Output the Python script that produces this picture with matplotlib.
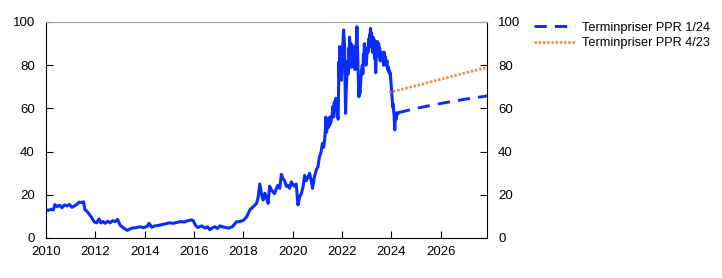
import matplotlib
matplotlib.use("Agg")
import matplotlib.pyplot as plt

plt.rcParams['font.family'] = ['Liberation Sans', 'DejaVu Sans']

# historisk pris (aar som desimaltall, verdi)
hist_x = [2010.00, 2010.10, 2010.20, 2010.30, 2010.36, 2010.45, 2010.55, 2010.65, 2010.75, 2010.85,
          2010.95, 2011.05, 2011.15, 2011.25, 2011.35, 2011.45, 2011.52, 2011.58, 2011.65, 2011.75,
          2011.85, 2011.95, 2012.05, 2012.15, 2012.22, 2012.30, 2012.40, 2012.50, 2012.60, 2012.70,
          2012.80, 2012.90, 2013.00, 2013.10, 2013.20, 2013.30, 2013.40, 2013.50, 2013.65, 2013.80,
          2013.95, 2014.10, 2014.18, 2014.28, 2014.40, 2014.55, 2014.70, 2014.85, 2015.00, 2015.15,
          2015.30, 2015.45, 2015.60, 2015.75, 2015.90, 2015.97, 2016.05, 2016.15, 2016.30, 2016.45,
          2016.55, 2016.64, 2016.75, 2016.85, 2016.95, 2017.05, 2017.20, 2017.40, 2017.55, 2017.72,
          2017.85, 2018.00, 2018.12, 2018.26, 2018.40, 2018.53, 2018.60, 2018.66, 2018.74, 2018.80,
          2018.87, 2018.94, 2019.00, 2019.06, 2019.15, 2019.26, 2019.33, 2019.40, 2019.47, 2019.54,
          2019.60, 2019.67, 2019.74, 2019.80, 2019.87, 2019.94, 2020.05, 2020.14, 2020.21, 2020.28,
          2020.35, 2020.42, 2020.48, 2020.55, 2020.61, 2020.68, 2020.74, 2020.80, 2020.88, 2020.95,
          2021.02, 2021.08, 2021.15, 2021.20, 2021.25, 2021.29, 2021.32, 2021.34, 2021.37, 2021.40,
          2021.43, 2021.45, 2021.48, 2021.50, 2021.53, 2021.56, 2021.60, 2021.63, 2021.66, 2021.68,
          2021.71, 2021.74, 2021.77, 2021.80, 2021.84, 2021.87, 2021.89, 2021.90, 2021.92, 2021.93,
          2021.95, 2021.97, 2021.99, 2022.01, 2022.03, 2022.06, 2022.08, 2022.10, 2022.12, 2022.14,
          2022.16, 2022.18, 2022.20, 2022.23, 2022.25, 2022.27, 2022.29, 2022.30, 2022.32, 2022.34,
          2022.36, 2022.37, 2022.39, 2022.41, 2022.43, 2022.44, 2022.46, 2022.48, 2022.50, 2022.52,
          2022.54, 2022.55, 2022.57, 2022.60, 2022.62, 2022.64, 2022.66, 2022.68, 2022.70, 2022.72,
          2022.75, 2022.77, 2022.79, 2022.82, 2022.84, 2022.86, 2022.88, 2022.90, 2022.92, 2022.95,
          2022.97, 2023.00, 2023.02, 2023.05, 2023.07, 2023.09, 2023.11, 2023.13, 2023.15, 2023.17,
          2023.19, 2023.21, 2023.23, 2023.25, 2023.27, 2023.29, 2023.31, 2023.32, 2023.34, 2023.36,
          2023.38, 2023.40, 2023.42, 2023.43, 2023.46, 2023.48, 2023.50, 2023.52, 2023.54, 2023.56,
          2023.58, 2023.59, 2023.62, 2023.64, 2023.66, 2023.68, 2023.70, 2023.72, 2023.75, 2023.77,
          2023.80, 2023.82, 2023.84, 2023.86, 2023.88, 2023.90, 2023.93, 2023.95, 2023.98, 2024.00,
          2024.03, 2024.05, 2024.07, 2024.09, 2024.11, 2024.13, 2024.15, 2024.17, 2024.19, 2024.21,
          2024.26]
hist_y = [13.0, 12.8, 13.3, 13.0, 15.5, 14.5, 15.2, 14.0, 15.3, 14.8,
          15.5, 14.2, 14.8, 15.6, 16.6, 16.4, 16.8, 13.0, 12.5, 11.0,
          9.5, 7.5, 7.0, 8.8, 7.0, 7.6, 6.8, 7.8, 7.0, 8.0,
          7.6, 8.6, 6.0, 5.0, 4.2, 3.5, 4.2, 4.6, 4.8, 5.2,
          4.8, 5.4, 6.8, 5.0, 5.6, 5.8, 6.2, 6.6, 7.0, 6.8,
          7.2, 7.6, 7.4, 8.0, 8.4, 8.0, 6.0, 4.8, 5.6, 4.6,
          5.2, 3.8, 4.8, 5.2, 4.4, 5.6, 5.0, 4.6, 5.2, 7.5,
          7.6, 8.2, 9.6, 13.0, 14.5, 16.0, 19.0, 25.0, 20.0, 17.6,
          20.7, 18.5, 16.0, 24.0, 22.0, 20.5, 22.8, 24.4, 23.0, 29.5,
          27.5, 26.5, 24.0, 24.4, 23.0, 26.0, 24.0, 25.0, 15.3, 19.0,
          20.7, 24.0, 29.0, 26.5, 28.0, 30.0, 27.0, 23.0, 28.5, 31.5,
          33.0, 37.5, 40.0, 43.8, 42.0, 45.4, 50.0, 56.0, 49.0, 53.0,
          51.0, 55.0, 52.0, 56.0, 53.0, 54.6, 58.0, 61.0, 56.0, 63.0,
          60.0, 64.7, 62.0, 57.6, 55.0, 81.6, 74.0, 88.6, 80.0, 84.0,
          76.0, 73.0, 80.0, 84.0, 90.0, 96.3, 92.0, 88.0, 70.0, 57.7,
          66.0, 72.0, 78.0, 82.0, 76.0, 88.0, 84.0, 93.0, 87.0, 85.0,
          90.0, 79.0, 84.0, 86.0, 80.0, 89.0, 85.0, 84.0, 88.0, 78.0,
          84.0, 81.0, 88.0, 97.8, 88.0, 80.0, 72.0, 65.4, 70.0, 67.0,
          72.0, 74.6, 78.0, 80.0, 76.0, 85.0, 82.0, 90.0, 84.0, 86.0,
          80.0, 84.0, 88.0, 86.0, 92.0, 88.0, 94.0, 92.0, 97.0, 91.0,
          95.0, 90.0, 86.0, 93.0, 88.0, 92.0, 84.0, 83.0, 86.0, 76.5,
          84.0, 88.0, 91.0, 87.0, 84.0, 90.0, 86.0, 88.0, 82.0, 86.0,
          84.0, 85.0, 82.0, 86.0, 83.0, 80.0, 86.0, 82.0, 84.0, 80.0,
          81.0, 82.0, 78.0, 79.4, 77.0, 78.0, 76.0, 76.5, 72.0, 68.5,
          64.0, 60.5, 62.0, 58.5, 56.0, 50.0, 54.0, 57.0, 55.0, 58.0,
          57.5]

# terminpriser
ppr124_x = [2024.26, 2025.0, 2026.0, 2027.0, 2027.9]
ppr124_y = [58.0, 60.0, 62.3, 64.3, 65.8]
ppr423_x = [2023.90, 2025.0, 2026.0, 2027.0, 2027.9]
ppr423_y = [67.4, 70.5, 73.5, 76.5, 79.0]

xticks = [2010, 2012, 2014, 2016, 2018, 2020, 2022, 2024, 2026]
yticks = [0, 20, 40, 60, 80, 100]

blue = '#0a2dff'
orange = '#f28a3c'

fig = plt.figure(figsize=(7.22, 2.78), dpi=100)
ax = fig.add_axes([46/722, 40/278, 441/722, 216/278])

ax.plot(hist_x, hist_y, color=blue, linewidth=2.2, solid_joinstyle='round')
ax.plot(ppr124_x, ppr124_y, color=blue, linewidth=2.1, dashes=(4.2, 2.8),
        label='Terminpriser PPR 1/24')
ax.plot(ppr423_x, ppr423_y, color=orange, linewidth=1.9, linestyle=(0, (0.9, 0.7)),
        label='Terminpriser PPR 4/23')

ax.set_xlim(2010, 2027.87)
ax.set_ylim(0, 100)
ax.set_xticks(xticks)
ax.set_xticklabels([str(t) for t in xticks])
ax.set_yticks(yticks)
ax.tick_params(axis='both', direction='in', length=5, width=0.8, labelsize=9.5,
               right=True, labelright=True, pad=6)
ax.tick_params(axis='y', pad=8)
ax.spines['top'].set_color('#a0a0a0')
for s in ['left', 'right', 'bottom']:
    ax.spines[s].set_linewidth(0.8)

fig.legend(loc='upper left', bbox_to_anchor=(0.733, 0.94), frameon=False,
           fontsize=9.2, handlelength=3.2, handletextpad=0.5, labelspacing=0.25,
           borderaxespad=0)

fig.savefig('out.png', dpi=100)
